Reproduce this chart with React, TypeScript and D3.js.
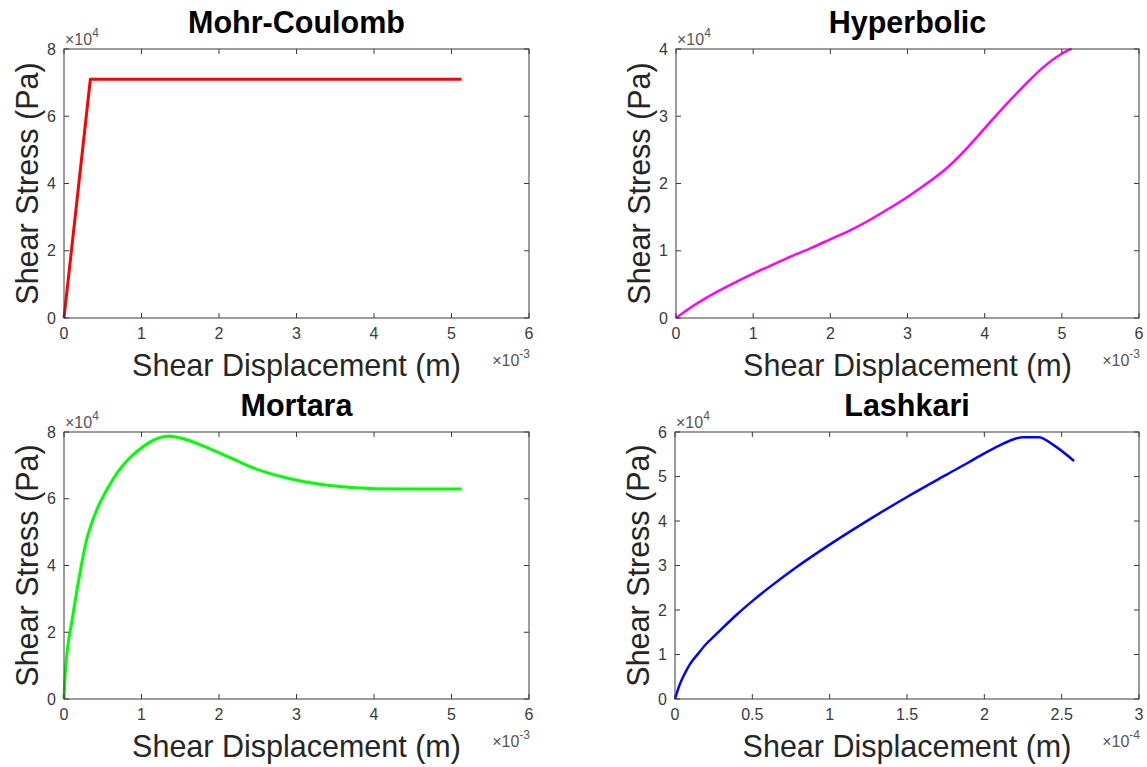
import React, { useEffect, useRef } from "react";
import * as d3 from "d3";

// displacement values are in units of the axis multiplier (x10^-3 or x10^-4 m),
// stress values in units of x10^4 Pa
const mohrX = [0, 0.34, 5.13];
const mohrY = [0, 7.1, 7.1];

const hypX = [0, 0.25, 0.5, 0.75, 1, 1.25, 1.5, 1.75, 2, 2.25, 2.5, 2.75, 3, 3.25, 3.5, 3.75, 4, 4.25, 4.5, 4.75, 5, 5.1, 5.13];
const hypY = [0, 0.2, 0.37, 0.52, 0.66, 0.79, 0.92, 1.04, 1.17, 1.3, 1.45, 1.62, 1.8, 2.0, 2.22, 2.5, 2.82, 3.14, 3.44, 3.72, 3.93, 3.99, 4.0];

const mortX = [0, 0.02, 0.05, 0.1, 0.17, 0.29, 0.42, 0.56, 0.7, 0.85, 1.02, 1.2, 1.35, 1.55, 1.75, 1.95, 2.2, 2.4, 2.65, 2.86, 3.1, 3.32, 3.55, 3.78, 4.0, 4.5, 5.13];
const mortY = [0, 0.9, 1.6, 2.3, 3.3, 4.75, 5.65, 6.3, 6.82, 7.23, 7.56, 7.8, 7.87, 7.79, 7.62, 7.43, 7.17, 6.96, 6.76, 6.63, 6.51, 6.43, 6.37, 6.33, 6.3, 6.29, 6.29];

const lashX = [0, 0.03, 0.06, 0.1, 0.15, 0.2, 0.25, 0.3, 0.4, 0.5, 0.6, 0.78, 1.0, 1.25, 1.5, 1.75, 1.9, 2.0, 2.1, 2.2, 2.25, 2.35, 2.45, 2.58];
const lashY = [0, 0.32, 0.55, 0.8, 1.02, 1.23, 1.4, 1.57, 1.9, 2.2, 2.48, 2.95, 3.47, 4.02, 4.54, 5.03, 5.32, 5.52, 5.7, 5.85, 5.88, 5.88, 5.7, 5.35];

const ticksX6 = [0, 1, 2, 3, 4, 5, 6];
const ticksX3 = [0, 0.5, 1, 1.5, 2, 2.5, 3];
const ticksY8 = [0, 2, 4, 6, 8];
const ticksY4 = [0, 1, 2, 3, 4];
const ticksY6 = [0, 1, 2, 3, 4, 5, 6];

const titles = ["Mohr-Coulomb", "Hyperbolic", "Mortara", "Lashkari"];
const xExponents = ["-3", "-3", "-3", "-4"];
const yExponent = "4";
const xLabel = "Shear Displacement (m)";
const yLabel = "Shear Stress (Pa)";

const W = 1147;
const H = 767;
const FONT = "'Liberation Sans', Arial, Helvetica, sans-serif";
const TICK_COLOR = "#3a3a3a";

const panels = [
  { title: titles[0], xs: mohrX, ys: mohrY, xTicks: ticksX6, yTicks: ticksY8, xExp: xExponents[0], color: "#ff0000", lw: 3, smooth: false, left: 64, right: 529, top: 49, bottom: 318 },
  { title: titles[1], xs: hypX, ys: hypY, xTicks: ticksX6, yTicks: ticksY4, xExp: xExponents[1], color: "#ff00ff", lw: 2.5, smooth: true, left: 676, right: 1139, top: 49, bottom: 318 },
  { title: titles[2], xs: mortX, ys: mortY, xTicks: ticksX6, yTicks: ticksY8, xExp: xExponents[2], color: "#00ff00", lw: 3, smooth: true, left: 64, right: 529, top: 432, bottom: 699 },
  { title: titles[3], xs: lashX, ys: lashY, xTicks: ticksX3, yTicks: ticksY6, xExp: xExponents[3], color: "#0000ff", lw: 2.5, smooth: true, left: 675, right: 1139, top: 432, bottom: 699 },
];

const App = () => {
  const svgRef = useRef<SVGSVGElement>(null);

  useEffect(() => {
    const svg = d3.select(svgRef.current);
    svg.selectAll("*").remove();

    panels.forEach((p) => {
      const g = svg.append("g");
      const xScale = d3
        .scaleLinear()
        .domain([p.xTicks[0], p.xTicks[p.xTicks.length - 1]])
        .range([p.left, p.right]);
      const yScale = d3
        .scaleLinear()
        .domain([p.yTicks[0], p.yTicks[p.yTicks.length - 1]])
        .range([p.bottom, p.top]);
      const cx = (p.left + p.right) / 2;
      const cy = (p.top + p.bottom) / 2;

      // data line
      const line = d3
        .line<[number, number]>()
        .x((d) => xScale(d[0]))
        .y((d) => yScale(d[1]))
        .curve(p.smooth ? d3.curveMonotoneX : d3.curveLinear);
      g.append("path")
        .datum(d3.zip(p.xs, p.ys) as [number, number][])
        .attr("fill", "none")
        .attr("stroke", p.color)
        .attr("stroke-width", p.lw)
        .attr("stroke-linejoin", "round")
        .attr("d", line);

      // ticks, inward on all four sides
      const tl = 5;
      p.xTicks.forEach((t) => {
        const xp = xScale(t);
        g.append("line").attr("x1", xp).attr("x2", xp).attr("y1", p.bottom).attr("y2", p.bottom - tl).attr("stroke", TICK_COLOR);
        g.append("line").attr("x1", xp).attr("x2", xp).attr("y1", p.top).attr("y2", p.top + tl).attr("stroke", TICK_COLOR);
        g.append("text")
          .attr("x", xp)
          .attr("y", p.bottom + 21)
          .attr("text-anchor", "middle")
          .attr("font-family", FONT)
          .attr("font-size", 16)
          .attr("fill", TICK_COLOR)
          .text(String(t));
      });
      p.yTicks.forEach((t) => {
        const yp = yScale(t);
        g.append("line").attr("x1", p.left).attr("x2", p.left + tl).attr("y1", yp).attr("y2", yp).attr("stroke", TICK_COLOR);
        g.append("line").attr("x1", p.right).attr("x2", p.right - tl).attr("y1", yp).attr("y2", yp).attr("stroke", TICK_COLOR);
        g.append("text")
          .attr("x", p.left - 8)
          .attr("y", yp)
          .attr("dy", "0.35em")
          .attr("text-anchor", "end")
          .attr("font-family", FONT)
          .attr("font-size", 16)
          .attr("fill", TICK_COLOR)
          .text(String(t));
      });

      // axes box
      g.append("rect")
        .attr("x", p.left)
        .attr("y", p.top)
        .attr("width", p.right - p.left)
        .attr("height", p.bottom - p.top)
        .attr("fill", "none")
        .attr("stroke", TICK_COLOR)
        .attr("stroke-width", 1);

      // exponent multipliers
      const yMul = g.append("text")
        .attr("x", p.left + 1)
        .attr("y", p.top - 4)
        .attr("font-family", FONT)
        .attr("font-size", 16)
        .attr("fill", "#555");
      yMul.append("tspan").text("\u00d710");
      yMul.append("tspan").attr("font-size", 12).attr("dy", -8).text(yExponent);

      const xMul = g.append("text")
        .attr("x", p.right + 1)
        .attr("y", p.bottom + 48)
        .attr("text-anchor", "end")
        .attr("font-family", FONT)
        .attr("font-size", 16)
        .attr("fill", "#555");
      xMul.append("tspan").text("\u00d710");
      xMul.append("tspan").attr("font-size", 12).attr("dy", -8).text(p.xExp);

      // labels and title
      g.append("text")
        .attr("x", cx)
        .attr("y", p.bottom + 58)
        .attr("text-anchor", "middle")
        .attr("font-family", FONT)
        .attr("font-size", 30.5)
        .attr("fill", "#262626")
        .text(xLabel);
      g.append("text")
        .attr("transform", `translate(${p.left - 26}, ${cy}) rotate(-90)`)
        .attr("text-anchor", "middle")
        .attr("font-family", FONT)
        .attr("font-size", 30.5)
        .attr("fill", "#262626")
        .text(yLabel);
      g.append("text")
        .attr("x", cx)
        .attr("y", p.top - 16)
        .attr("text-anchor", "middle")
        .attr("font-family", FONT)
        .attr("font-size", 30.5)
        .attr("font-weight", "bold")
        .attr("fill", "#000")
        .text(p.title);
    });
  }, []);

  return (
    <svg
      ref={svgRef}
      width={W}
      height={H}
      style={{ position: "absolute", left: 0, top: 0, display: "block", background: "#fff" }}
    ></svg>
  );
};

export default App;
